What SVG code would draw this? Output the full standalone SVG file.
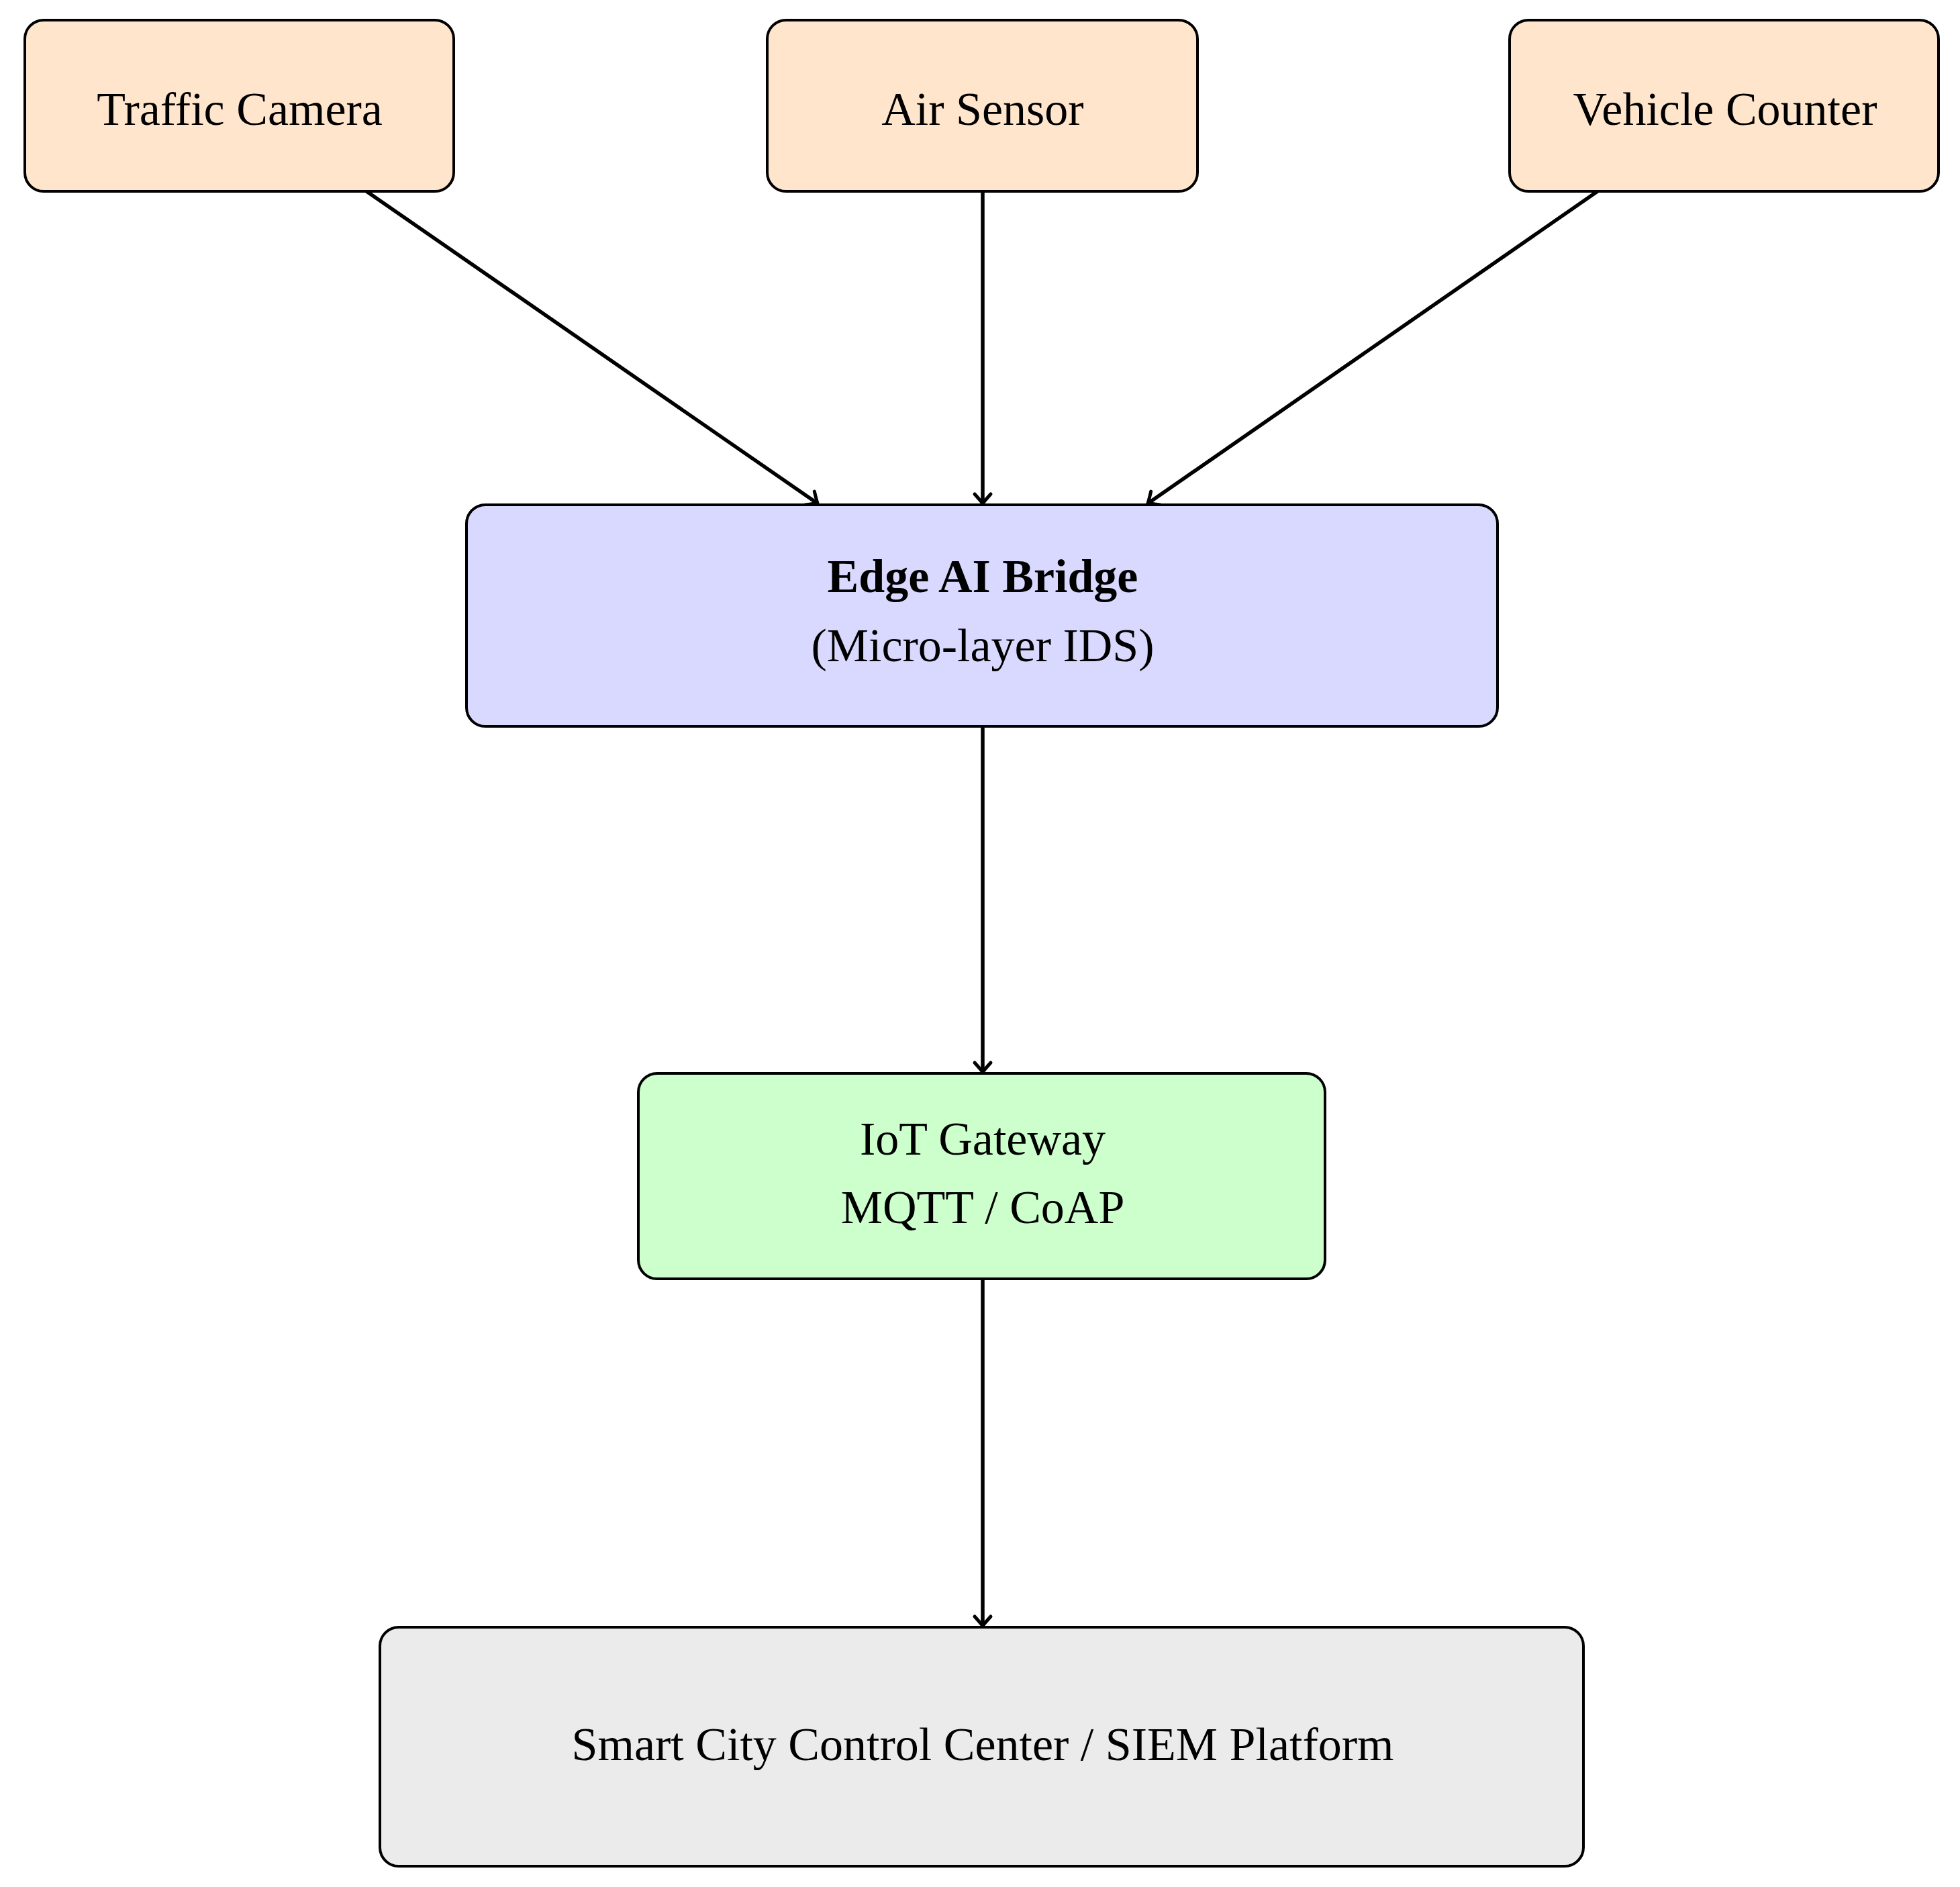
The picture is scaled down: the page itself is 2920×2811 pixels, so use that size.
<svg xmlns="http://www.w3.org/2000/svg" width="2920" height="2811" viewBox="0 0 2920 2811">
<style>
.box{stroke:#000;stroke-width:4}
.t{font-family:"Liberation Serif","DejaVu Serif",serif;font-size:70px;text-anchor:middle;fill:#000}
.c{stroke:#000;stroke-width:5.5;fill:none;marker-end:url(#ah)}
</style>
<defs>
<marker id="ah" markerUnits="userSpaceOnUse" markerWidth="40" markerHeight="40" viewBox="-20 -20 40 40" refX="0" refY="0" orient="auto">
<path d="M-14,-12 Q-4,-3 0,0 Q-4,3 -14,12" fill="none" stroke="#000" stroke-width="5" stroke-linecap="round"/>
</marker>
</defs>
<rect width="2920" height="2811" fill="#fff"/>
<g id="connectors">
<line class="c" x1="546" y1="285" x2="1218" y2="750"/>
<line class="c" x1="1464" y1="285" x2="1464" y2="750"/>
<line class="c" x1="2380" y1="285" x2="1710" y2="750"/>
<line class="c" x1="1464" y1="1082" x2="1464" y2="1597"/>
<line class="c" x1="1464" y1="1905" x2="1464" y2="2422"/>
</g>
<g id="traffic"><rect class="box" x="37" y="30" width="639" height="255" rx="28" fill="#ffe5cc"/><text class="t" x="357" y="186">Traffic Camera</text></g>
<g id="air"><rect class="box" x="1143" y="30" width="641" height="255" rx="28" fill="#ffe5cc"/><text class="t" x="1464" y="186">Air Sensor</text></g>
<g id="vehicle"><rect class="box" x="2249" y="30" width="639" height="255" rx="28" fill="#ffe5cc"/><text class="t" x="2570" y="186">Vehicle Counter</text></g>
<g id="edge"><rect class="box" x="695" y="752" width="1536" height="330" rx="28" fill="#d9d9ff"/><text class="t" x="1464" y="882" font-weight="bold">Edge AI Bridge</text><text class="t" x="1464" y="985">(Micro-layer IDS)</text></g>
<g id="gateway"><rect class="box" x="951" y="1599" width="1023" height="306" rx="28" fill="#ccffcc"/><text class="t" x="1464" y="1720">IoT Gateway</text><text class="t" x="1464" y="1822">MQTT / CoAP</text></g>
<g id="control"><rect class="box" x="566" y="2424" width="1793" height="356" rx="28" fill="#ebebeb"/><text class="t" x="1464" y="2622">Smart City Control Center / SIEM Platform</text></g>
</svg>
